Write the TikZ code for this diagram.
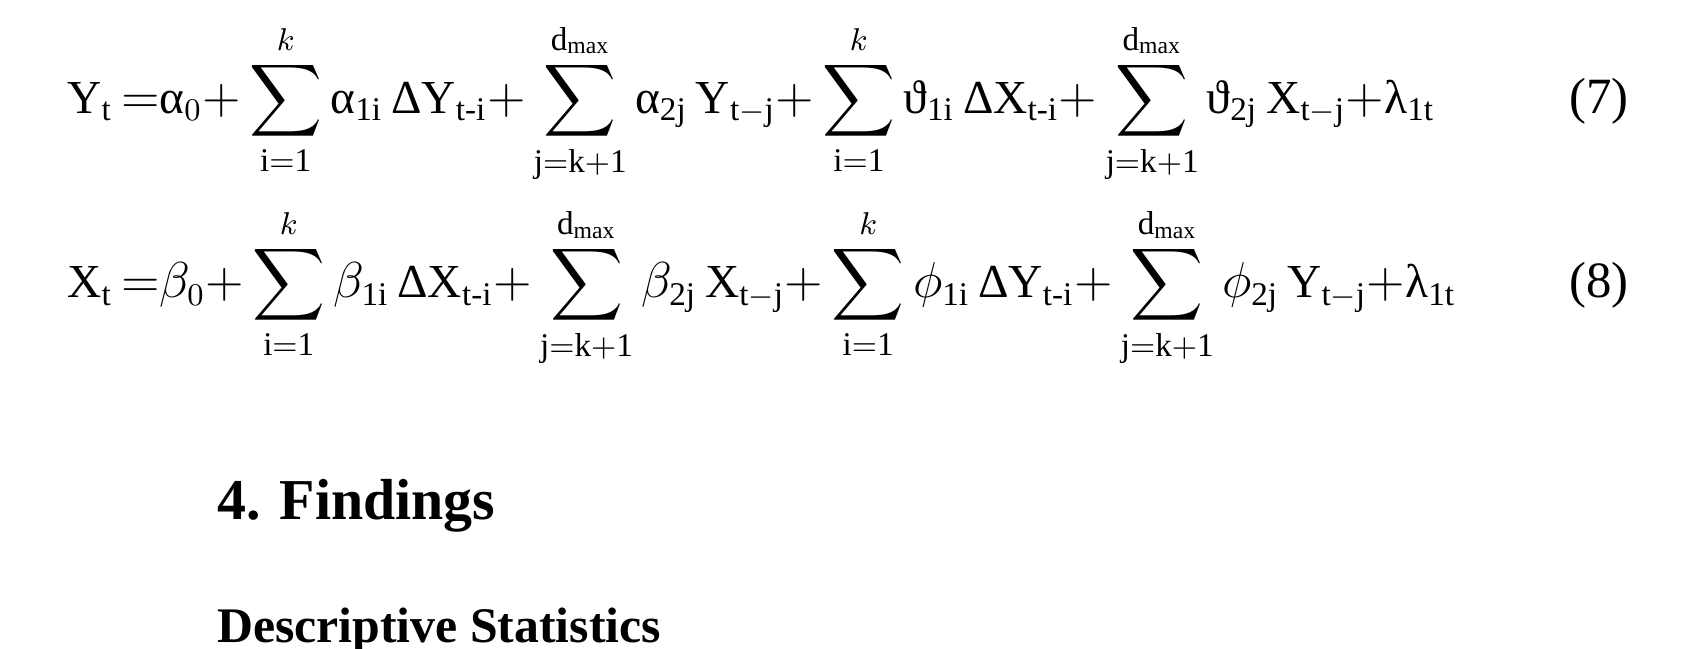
\documentclass[tikz,border=0pt]{standalone}
\usepackage{amsmath}
\usepackage{fontspec}
\setmainfont{Liberation Serif}
\newcommand\tx[1]{\text{#1}}
\tikzset{eqn/.style={anchor=base west,inner sep=0pt,font=\fontsize{13.5}{16}\selectfont},
 num/.style={anchor=base east,inner sep=0pt,font=\fontsize{14.5}{17}\selectfont},
 head/.style={anchor=base west,inner sep=0pt,font=\bfseries\fontsize{16.5}{20}\selectfont},
 sub/.style={anchor=base west,inner sep=0pt,font=\bfseries\fontsize{14.2}{17}\selectfont}}
\begin{document}
\begin{tikzpicture}
\useasboundingbox (0,0) rectangle (17,6.505);
\node[eqn] (e1) at (0.67,5.37) {$\displaystyle \mathrm{Y_t}\,{=}\tx{α}_0{+}\sum_{\mathrm{i=1}}^{k}\tx{α}_{\mathrm{1i}}\,\tx{ΔY}_{\mathrm{t\text{-}i}}{+}\sum_{\mathrm{j=k+1}}^{\mathrm{d_{max}}}\tx{α}_{\mathrm{2j}}\,\mathrm{Y}_{\mathrm{t-j}}{+}\sum_{\mathrm{i=1}}^{k}\tx{ϑ}_{\mathrm{1i}}\,\tx{ΔX}_{\mathrm{t\text{-}i}}{+}\sum_{\mathrm{j=k+1}}^{\mathrm{d_{max}}}\tx{ϑ}_{\mathrm{2j}}\,\mathrm{X}_{\mathrm{t-j}}{+}\tx{λ}_{\mathrm{1t}}$};
\node[num] (n1) at (16.33,5.37) {(7)};
\node[eqn] (e2) at (0.67,3.52) {$\displaystyle \mathrm{X_t}\,{=}\beta_0{+}\sum_{\mathrm{i=1}}^{k}\beta_{\mathrm{1i}}\,\tx{ΔX}_{\mathrm{t\text{-}i}}{+}\sum_{\mathrm{j=k+1}}^{\mathrm{d_{max}}}\beta_{\mathrm{2j}}\,\mathrm{X}_{\mathrm{t-j}}{+}\sum_{\mathrm{i=1}}^{k}\phi_{\mathrm{1i}}\,\tx{ΔY}_{\mathrm{t\text{-}i}}{+}\sum_{\mathrm{j=k+1}}^{\mathrm{d_{max}}}\phi_{\mathrm{2j}}\,\mathrm{Y}_{\mathrm{t-j}}{+}\tx{λ}_{\mathrm{1t}}$};
\node[num] (n2) at (16.33,3.52) {(8)};
\node[head] (h) at (2.17,1.30) {4. Findings};
\node[sub] (s) at (2.17,0.06) {Descriptive Statistics};
\end{tikzpicture}
\end{document}
